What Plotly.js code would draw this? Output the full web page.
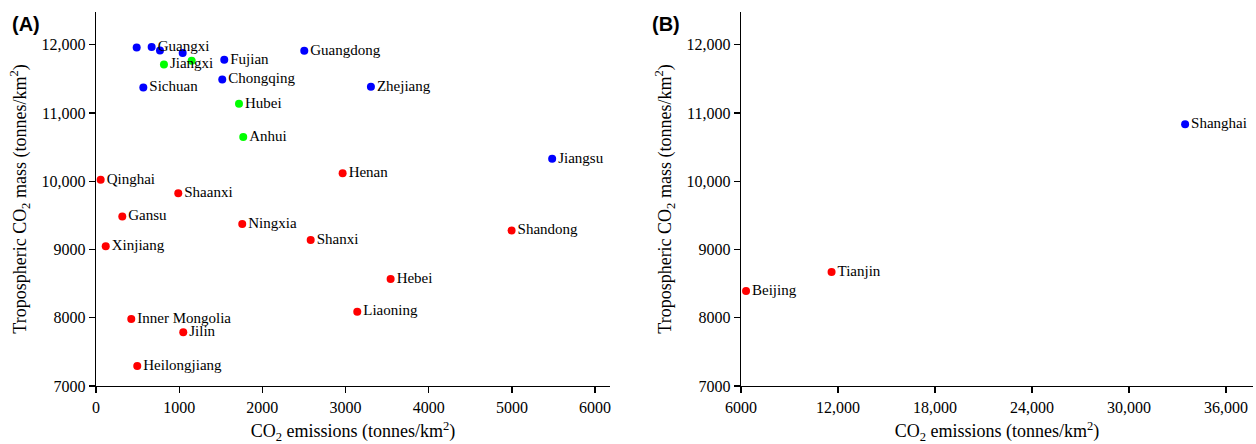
<!DOCTYPE html>
<html>
<head>
<meta charset="utf-8">
<script src="https://cdn.plot.ly/plotly-3.0.1.min.js"></script>
<style>html,body{margin:0;padding:0;background:#fff;}#chart{width:1256px;height:444px;}</style>
</head>
<body>
<div id="chart"></div>
<script>
// Panel A: provinces
const provincesA = ["Yunnan","Guangxi","Guizhou","Hainan","Hunan","Jiangxi","Sichuan","Fujian","Chongqing","Guangdong","Zhejiang","Hubei","Anhui","Jiangsu","Henan","Shandong","Hebei","Liaoning","Shanxi","Ningxia","Shaanxi","Gansu","Xinjiang","Qinghai","Inner Mongolia","Jilin","Heilongjiang"];
const labelsA = ["","Guangxi","","","","Jiangxi","Sichuan","Fujian","Chongqing","Guangdong","Zhejiang","Hubei","Anhui","Jiangsu","Henan","Shandong","Hebei","Liaoning","Shanxi","Ningxia","Shaanxi","Gansu","Xinjiang","Qinghai","Inner Mongolia","Jilin","Heilongjiang"];
const emissionsA = [489,669,769,1042,1150,817,569,1542,1518,2504,3305,1719,1770,5484,2965,4996,3542,3141,2581,1758,989,316,117,56,424,1049,496];
const massA = [11960,11966,11916,11878,11765,11711,11374,11780,11491,11912,11384,11135,10647,10328,10119,9277,8569,8089,9141,9375,9826,9482,9048,10021,7982,7787,7293];
const groupA = ["blue","blue","blue","blue","green","green","blue","blue","blue","blue","blue","green","green","blue","red","red","red","red","red","red","red","red","red","red","red","red","red"];

// Panel B: municipalities
const citiesB = ["Shanghai","Tianjin","Beijing"];
const emissionsB = [33470,11600,6310];
const massB = [10837,8672,8393];
const groupB = ["blue","red","red"];

const colorMap = {blue:"#0000ff", green:"#00ff00", red:"#ff0000"};

const yTickVals = [7000,8000,9000,10000,11000,12000];
const yTickText = ["7000","8000","9000","10,000","11,000","12,000"];
const xTickValsA = [0,1000,2000,3000,4000,5000,6000];
const xTickTextA = ["0","1000","2000","3000","4000","5000","6000"];
const xTickValsB = [6000,12000,18000,24000,30000,36000];
const xTickTextB = ["6000","12,000","18,000","24,000","30,000","36,000"];

const serif = "Liberation Serif, Times New Roman, serif";

const traceA = {
  x: emissionsA, y: massA, text: labelsA, hovertext: provincesA,
  type: "scatter", mode: "markers+text", textposition: "middle right",
  marker: {size: 8, color: groupA.map(g => colorMap[g])},
  textfont: {family: serif, size: 15, color: "#000"},
  xaxis: "x", yaxis: "y", cliponaxis: false, showlegend: false
};
const traceB = {
  x: emissionsB, y: massB, text: citiesB,
  type: "scatter", mode: "markers+text", textposition: "middle right",
  marker: {size: 8, color: groupB.map(g => colorMap[g])},
  textfont: {family: serif, size: 15, color: "#000"},
  xaxis: "x2", yaxis: "y2", cliponaxis: false, showlegend: false
};

const axisCommon = {
  showgrid: false, zeroline: false, showline: true, linecolor: "#000", linewidth: 1.3,
  ticks: "outside", ticklen: 6, tickwidth: 1.3, tickcolor: "#000",
  tickfont: {family: serif, size: 16, color: "#000"}, mirror: false
};
const yTitle = "Tropospheric CO<sub>2</sub> mass (tonnes/km<sup>2</sup>)";
const xTitle = "CO<sub>2</sub> emissions (tonnes/km<sup>2</sup>)";

const layout = {
  width: 1256, height: 444,
  margin: {l: 96, r: 3, t: 12, b: 58},
  paper_bgcolor: "#fff", plot_bgcolor: "#fff",
  font: {family: serif, color: "#000"},
  xaxis: Object.assign({}, axisCommon, {domain: [0, 0.4443], range: [0, 6180], tickvals: xTickValsA, ticktext: xTickTextA,
    title: {text: xTitle, font: {family: serif, size: 18}, standoff: 10}, anchor: "y"}),
  yaxis: Object.assign({}, axisCommon, {domain: [0, 1], range: [7000, 12480], tickvals: yTickVals, ticktext: yTickText,
    title: {text: yTitle, font: {family: serif, size: 18}, standoff: 10}, anchor: "x"}),
  xaxis2: Object.assign({}, axisCommon, {domain: [0.5575, 1], range: [6000, 37670], tickvals: xTickValsB, ticktext: xTickTextB,
    title: {text: xTitle, font: {family: serif, size: 18}, standoff: 10}, anchor: "y2"}),
  yaxis2: Object.assign({}, axisCommon, {domain: [0, 1], range: [7000, 12480], tickvals: yTickVals, ticktext: yTickText,
    title: {text: yTitle, font: {family: serif, size: 18}, standoff: 10}, anchor: "x2"}),
  annotations: [
    {text: "<b>(A)</b>", xref: "paper", yref: "paper", x: -0.0743, y: 0.968, xanchor: "left", yanchor: "middle",
     showarrow: false, font: {family: "Liberation Sans, Arial, sans-serif", size: 20, color: "#000"}},
    {text: "<b>(B)</b>", xref: "paper", yref: "paper", x: 0.479, y: 0.968, xanchor: "left", yanchor: "middle",
     showarrow: false, font: {family: "Liberation Sans, Arial, sans-serif", size: 20, color: "#000"}}
  ]
};

Plotly.newPlot("chart", [traceA, traceB], layout, {displayModeBar: false, staticPlot: true});
</script>
</body>
</html>
